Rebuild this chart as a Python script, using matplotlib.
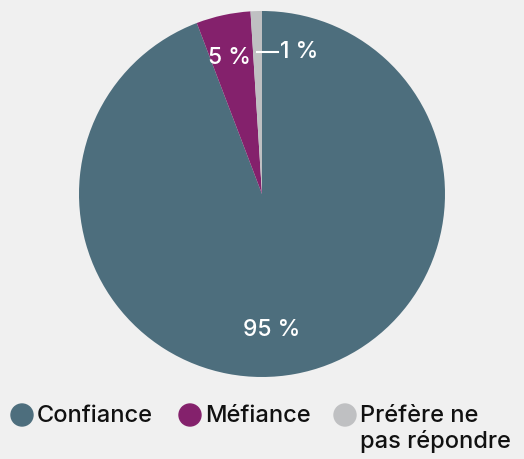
import matplotlib.pyplot as plt
from matplotlib.patches import Ellipse

categories = ["Confiance", "Méfiance", "Préfère ne\npas répondre"]
values = [94.2, 4.8, 1.0]
value_labels = ["95 %", "5 %", "1 %"]
colors = ["#4d6e7d", "#84216c", "#bfc0c2"]

plt.rcParams['font.family'] = ['Inter', 'DejaVu Sans']
bg = "#f0f0f0"
W, H = 524, 460

fig = plt.figure(figsize=(W / 100, H / 100), dpi=100, facecolor=bg)
ax = fig.add_axes([79 / W, 82 / H, 366 / W, 366 / H])
ax.set_facecolor(bg)

ax.pie(values, colors=colors, startangle=90, counterclock=False, radius=1,
       wedgeprops=dict(linewidth=0))
ax.set_xlim(-1, 1)
ax.set_ylim(-1, 1)
ax.set_aspect('equal')
ax.axis('off')

# value labels
ax.text(0.05, -0.74, value_labels[0], color="white", fontsize=16.5,
        ha="center", va="center", fontweight=500)
ax.text(-0.18, 0.75, value_labels[1], color="white", fontsize=16.5,
        ha="center", va="center", fontweight=500)
ax.plot([-0.03, 0.09], [0.775, 0.775], color="white", linewidth=1.5)
ax.text(0.1, 0.78, value_labels[2], color="white", fontsize=16.5,
        ha="left", va="center", fontweight=500)

# legend drawn by hand so the wrapped label hangs under its first line
legend_x = [22, 190, 345]
for x, label, c in zip(legend_x, categories, colors):
    fig.patches.append(Ellipse((x / W, 1 - 416 / H), 22 / W, 22 / H,
                               transform=fig.transFigure, color=c))
    for i, line in enumerate(label.split("\n")):
        fig.text((x + 15) / W, 1 - (416 + 26 * i) / H, line,
                 fontsize=17, ha="left", va="center", color="#111111",
                 fontweight=500)

fig.savefig("out.png", dpi=100, facecolor=bg)
